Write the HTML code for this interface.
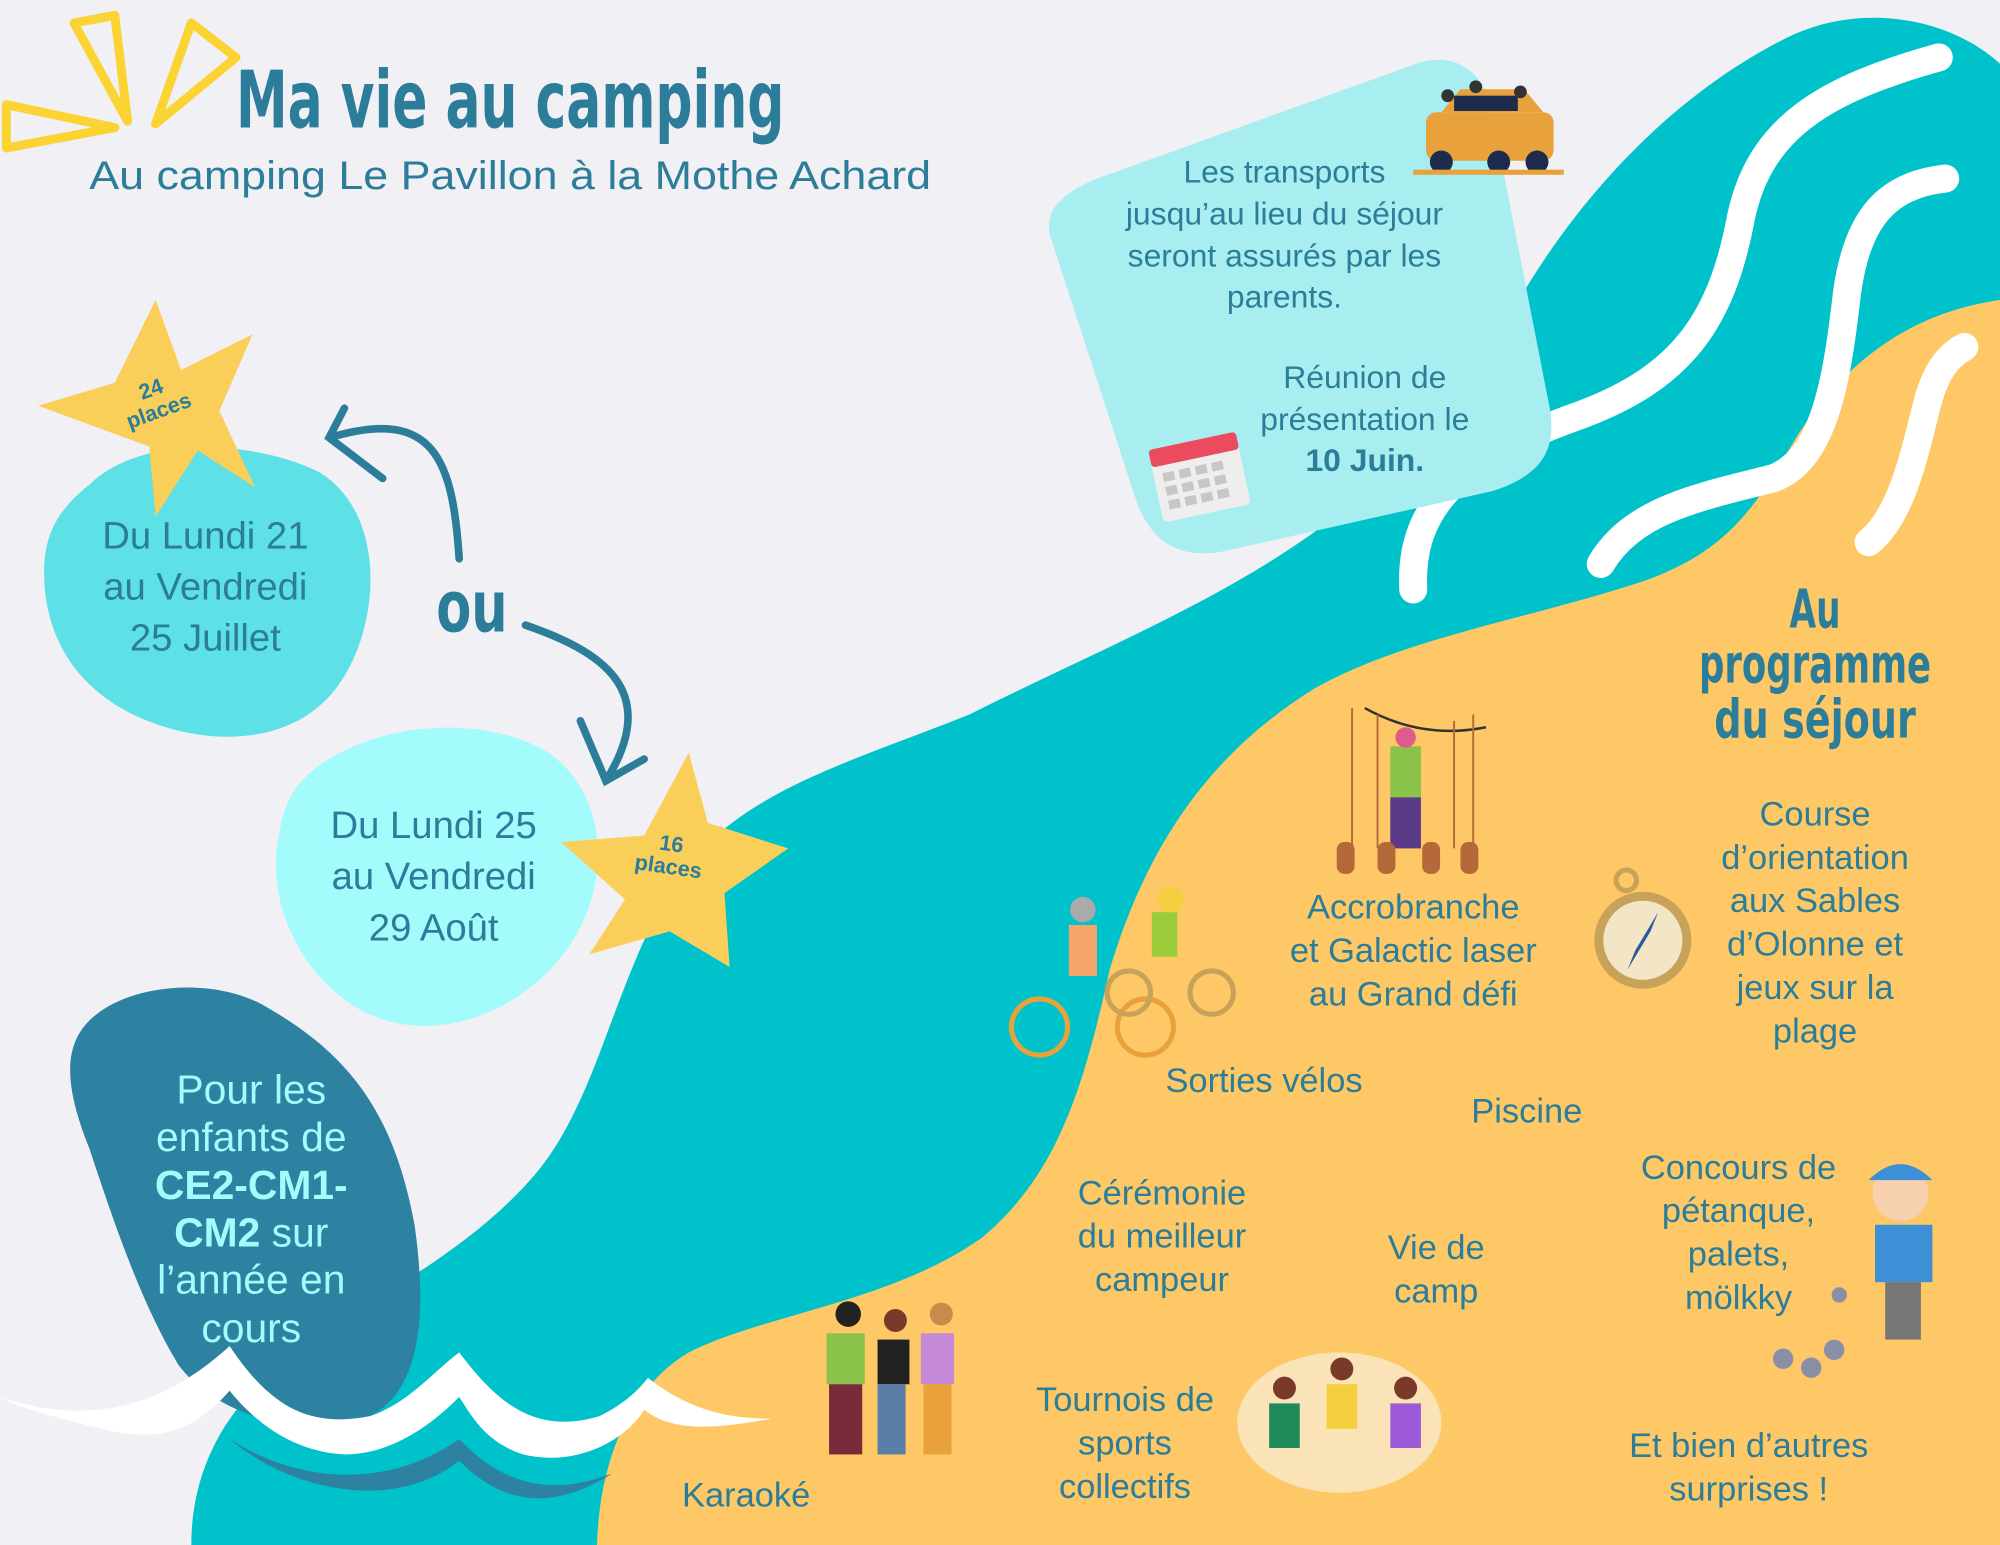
<!DOCTYPE html>
<html><head><meta charset="utf-8"><style>
html,body{margin:0;padding:0;background:#f1f0f4;}
svg{display:block;}
.t{font-family:"Liberation Sans",sans-serif;fill:#2b7d99;text-anchor:middle;}
.h{font-family:"DejaVu Sans Condensed","Liberation Sans Narrow",sans-serif;font-weight:bold;fill:#2b7d99;text-anchor:middle;}
</style></head><body>
<svg width="2000" height="1545" viewBox="0 0 1568 1211" preserveAspectRatio="none" xmlns="http://www.w3.org/2000/svg">
<rect width="1568" height="1211" fill="#f1f0f4"/>
<path d="M1568,50 C1530,15 1460,0 1400,30 C1320,70 1250,140 1200,220 C1150,300 1110,360 1040,410 C960,470 860,510 760,560 C660,600 580,620 530,690 C480,770 470,860 420,920 C360,990 280,1020 220,1070 C170,1110 150,1160 150,1211 L1568,1211 Z" fill="#00c2cb"/>
<path d="M1568,235 C1500,245 1450,280 1410,340 C1380,390 1360,430 1290,455 C1200,485 1100,500 1030,540 C950,590 900,660 870,760 C850,850 830,920 770,970 C700,1020 600,1030 540,1060 C490,1090 470,1150 468,1211 L1568,1211 Z" fill="#fdc865"/>
<g fill="none" stroke="#fff" stroke-width="22" stroke-linecap="round">
<path d="M1108,462 C1105,400 1140,360 1240,325 C1320,295 1350,250 1365,170 C1380,100 1430,70 1520,45"/>
<path d="M1255,442 C1280,400 1330,390 1390,375 C1430,360 1440,300 1448,230 C1456,170 1480,145 1525,140"/>
<path d="M1465,425 C1490,405 1500,360 1510,320 C1516,295 1525,280 1540,272"/>
</g>
<path d="M860,140 L1110,50 C1140,40 1165,55 1170,90 L1215,320 C1222,360 1200,375 1170,385 L960,432 C920,440 900,420 890,390 L825,190 C815,165 835,150 860,140 Z" fill="#a8eef0"/>
<g>
<rect x="1118" y="88" width="100" height="38" rx="8" fill="#e9a23b"/>
<path d="M1130,88 L1145,70 L1195,70 L1210,88 Z" fill="#e9a23b"/>
<rect x="1140" y="75" width="50" height="12" fill="#1d2c4c"/>
<circle cx="1130" cy="127" r="9" fill="#1d2c4c"/><circle cx="1175" cy="127" r="9" fill="#1d2c4c"/><circle cx="1205" cy="127" r="9" fill="#1d2c4c"/>
<rect x="1108" y="133" width="118" height="4" fill="#e9a23b"/>
<circle cx="1135" cy="75" r="5" fill="#333"/><circle cx="1157" cy="68" r="5" fill="#333"/><circle cx="1192" cy="72" r="5" fill="#333"/>
</g>
<g transform="rotate(-12 940 372)">
<rect x="905" y="345" width="70" height="58" rx="4" fill="#eee"/>
<rect x="905" y="345" width="70" height="14" rx="3" fill="#ea4b5f"/>
<g fill="#c7c7c7">
<rect x="912" y="365" width="9" height="7"/><rect x="925" y="365" width="9" height="7"/><rect x="938" y="365" width="9" height="7"/><rect x="951" y="365" width="9" height="7"/>
<rect x="912" y="376" width="9" height="7"/><rect x="925" y="376" width="9" height="7"/><rect x="938" y="376" width="9" height="7"/><rect x="951" y="376" width="9" height="7"/>
<rect x="912" y="387" width="9" height="7"/><rect x="925" y="387" width="9" height="7"/><rect x="938" y="387" width="9" height="7"/><rect x="951" y="387" width="9" height="7"/>
</g>
</g>
<path d="M70,380 C110,340 200,345 250,370 C300,400 300,480 270,530 C240,580 180,585 130,570 C80,555 40,520 35,460 C32,420 45,400 70,380 Z" fill="#5de0e6"/>
<path d="M250,600 C300,565 380,560 430,590 C480,625 480,700 440,750 C400,800 330,820 280,790 C230,760 210,700 218,660 C222,630 230,615 250,600 Z" fill="#a3fbfc"/>
<path d="M70,800 C100,770 170,765 210,790 C280,830 310,880 325,960 C335,1030 330,1090 290,1110 C240,1130 170,1110 140,1070 C110,1020 90,960 70,900 C50,850 50,820 70,800 Z" fill="#2c82a0"/>
<path d="M0,1095 C60,1115 120,1110 180,1055 C210,1100 240,1120 290,1110 C320,1100 340,1075 360,1060 C390,1100 420,1125 470,1110 C490,1100 500,1090 508,1080 C540,1105 570,1112 605,1112 C570,1118 530,1125 505,1105 C490,1130 450,1150 410,1140 C380,1130 370,1110 360,1095 C330,1125 300,1140 270,1140 C230,1138 200,1115 180,1090 C150,1125 120,1130 80,1120 C40,1110 20,1105 0,1095 Z" fill="#fff"/>
<path d="M180,1128 C230,1160 300,1170 360,1128 C400,1170 440,1170 480,1155 C440,1180 400,1185 360,1145 C310,1185 230,1170 180,1128 Z" fill="#2c82a0"/>
<path d="M122,235 L142,290 L198,262 L172,322 L200,382 L155,353 L122,405 L117,350 L30,318 L90,300 Z" fill="#f9cf5a"/>
<path d="M540,590 L555,645 L618,665 L568,700 L572,758 L525,730 L462,748 L490,705 L440,660 L505,655 Z" fill="#f9cf5a"/>
<g fill="none" stroke="#fbd332" stroke-width="7" stroke-linejoin="round">
<path d="M58,18 L90,12 L100,95 Z"/>
<path d="M150,18 L185,45 L122,97 Z"/>
<path d="M5,82 L90,100 L5,116 Z"/>
</g>
<g fill="none" stroke="#2b7d99" stroke-width="6" stroke-linecap="round">
<path d="M360,438 C355,360 340,320 262,342"/>
<path d="M270,320 L258,343 L300,375"/>
<path d="M412,490 C470,510 520,540 475,612"/>
<path d="M455,565 L475,612 L505,595"/>
</g>
<text x="400" y="100" class="h" font-size="62" textLength="430" lengthAdjust="spacingAndGlyphs">Ma vie au camping</text>
<text x="400" y="148" class="t" font-size="31" textLength="660" lengthAdjust="spacingAndGlyphs">Au camping Le Pavillon à la Mothe Achard</text>
<g class="t" font-size="30"><text x="161" y="430">Du Lundi 21</text><text x="161" y="470">au Vendredi</text><text x="161" y="510">25 Juillet</text></g>
<g class="t" font-size="30"><text x="340" y="657">Du Lundi 25</text><text x="340" y="697">au Vendredi</text><text x="340" y="737">29 Août</text></g>
<text x="370" y="495" class="h" font-size="56" textLength="56" lengthAdjust="spacingAndGlyphs">ou</text>
<g transform="rotate(-20 122 315)" class="t" font-size="17" font-weight="bold"><text x="122" y="310">24</text><text x="122" y="328">places</text></g>
<g transform="rotate(8 525 672)" class="t" font-size="17" font-weight="bold"><text x="525" y="667">16</text><text x="525" y="685">places</text></g>
<g class="t" font-size="25"><text x="1007" y="143">Les transports</text><text x="1007" y="176">jusqu’au lieu du séjour</text><text x="1007" y="209">seront assurés par les</text><text x="1007" y="241">parents.</text>
<text x="1070" y="304">Réunion de</text><text x="1070" y="337">présentation le</text><text x="1070" y="369" font-weight="bold">10 Juin.</text></g>
<g class="h" font-size="42"><text x="1423" y="492" textLength="40" lengthAdjust="spacingAndGlyphs">Au</text><text x="1423" y="535" textLength="182" lengthAdjust="spacingAndGlyphs">programme</text><text x="1423" y="578" textLength="158" lengthAdjust="spacingAndGlyphs">du séjour</text></g>
<g class="t" font-size="27">
<text x="1423" y="647">Course</text><text x="1423" y="681">d’orientation</text><text x="1423" y="715">aux Sables</text><text x="1423" y="749">d’Olonne et</text><text x="1423" y="783">jeux sur la</text><text x="1423" y="817">plage</text>
<text x="1108" y="720">Accrobranche</text><text x="1108" y="754">et Galactic laser</text><text x="1108" y="788">au Grand défi</text>
<text x="991" y="856">Sorties vélos</text><text x="1197" y="880">Piscine</text>
<text x="911" y="944">Cérémonie</text><text x="911" y="978">du meilleur</text><text x="911" y="1012">campeur</text>
<text x="1126" y="987">Vie de</text><text x="1126" y="1021">camp</text>
<text x="1363" y="924">Concours de</text><text x="1363" y="958">pétanque,</text><text x="1363" y="992">palets,</text><text x="1363" y="1026">mölkky</text>
<text x="882" y="1106">Tournois de</text><text x="882" y="1140">sports</text><text x="882" y="1174">collectifs</text>
<text x="585" y="1181">Karaoké</text>
<text x="1371" y="1142">Et bien d’autres</text><text x="1371" y="1176">surprises !</text>
</g>
<g class="t" font-size="32" style="fill:#a3fbfc"><text x="197" y="865">Pour les</text><text x="197" y="902">enfants de</text><text x="197" y="940" font-weight="bold">CE2-CM1-</text><text x="197" y="977"><tspan font-weight="bold">CM2</tspan> sur</text><text x="197" y="1014">l’année en</text><text x="197" y="1052">cours</text></g>
<g>
<circle cx="1288" cy="737" r="38" fill="#c9a25a"/><circle cx="1288" cy="737" r="31" fill="#f3e6c7"/>
<path d="M1300,715 L1282,745 L1276,760 L1294,730 Z" fill="#2b5a9a"/>
<circle cx="1275" cy="690" r="8" fill="none" stroke="#c9a25a" stroke-width="4"/>
</g>
<g>
<path d="M1070,555 Q1115,580 1165,570" fill="none" stroke="#333" stroke-width="2"/>
<g stroke="#b5683a" stroke-width="1.5"><line x1="1080" y1="560" x2="1080" y2="665"/><line x1="1140" y1="565" x2="1140" y2="665"/><line x1="1155" y1="560" x2="1155" y2="665"/><line x1="1060" y1="555" x2="1060" y2="665"/></g>
<rect x="1090" y="585" width="24" height="40" fill="#8bc34a"/><rect x="1090" y="625" width="24" height="40" fill="#5b3a8a"/>
<circle cx="1102" cy="578" r="8" fill="#e05a8a"/>
<g fill="#b5683a"><rect x="1048" y="660" width="14" height="25" rx="6"/><rect x="1080" y="660" width="14" height="25" rx="6"/><rect x="1115" y="660" width="14" height="25" rx="6"/><rect x="1145" y="660" width="14" height="25" rx="6"/></g>
</g>
<g fill="none" stroke-width="4">
<circle cx="815" cy="805" r="22" stroke="#e9a23b"/><circle cx="898" cy="805" r="22" stroke="#e9a23b"/>
<circle cx="885" cy="778" r="17" stroke="#c9a25a"/><circle cx="950" cy="778" r="17" stroke="#c9a25a"/>
</g>
<g><rect x="838" y="725" width="22" height="40" fill="#f5a56c"/><circle cx="849" cy="713" r="10" fill="#aaa"/><rect x="903" y="715" width="20" height="35" fill="#9ccc3a"/><circle cx="918" cy="705" r="10" fill="#f4d03f"/></g>
<g><rect x="1470" y="960" width="45" height="45" fill="#3d8fd6"/><circle cx="1490" cy="935" r="22" fill="#f7d0b0"/><path d="M1465,925 Q1490,900 1515,925 Z" fill="#3d8fd6"/><rect x="1478" y="1005" width="28" height="45" fill="#777"/></g>
<g fill="#8a8fa8"><circle cx="1398" cy="1065" r="8"/><circle cx="1420" cy="1072" r="8"/><circle cx="1438" cy="1058" r="8"/><circle cx="1442" cy="1015" r="6"/></g>
<g><rect x="648" y="1045" width="30" height="40" fill="#8bc34a"/><rect x="650" y="1085" width="26" height="55" fill="#7a2a3a"/><rect x="688" y="1050" width="25" height="35" fill="#222"/><rect x="688" y="1085" width="22" height="55" fill="#5a7ea8"/><rect x="722" y="1045" width="26" height="40" fill="#c58ad8"/><rect x="724" y="1085" width="22" height="55" fill="#e9a23b"/>
<circle cx="665" cy="1030" r="10" fill="#222"/><circle cx="702" cy="1035" r="9" fill="#7a3a2a"/><circle cx="738" cy="1030" r="9" fill="#c98a4a"/></g>
<g><ellipse cx="1050" cy="1115" rx="80" ry="55" fill="#fbe3b8"/><rect x="995" y="1100" width="24" height="35" fill="#1f8a5a"/><rect x="1040" y="1085" width="24" height="35" fill="#f4d03f"/><rect x="1090" y="1100" width="24" height="35" fill="#9c5ad8"/><circle cx="1007" cy="1088" r="9" fill="#7a3a2a"/><circle cx="1052" cy="1073" r="9" fill="#7a3a2a"/><circle cx="1102" cy="1088" r="9" fill="#7a3a2a"/></g>
</svg>
</body></html>
